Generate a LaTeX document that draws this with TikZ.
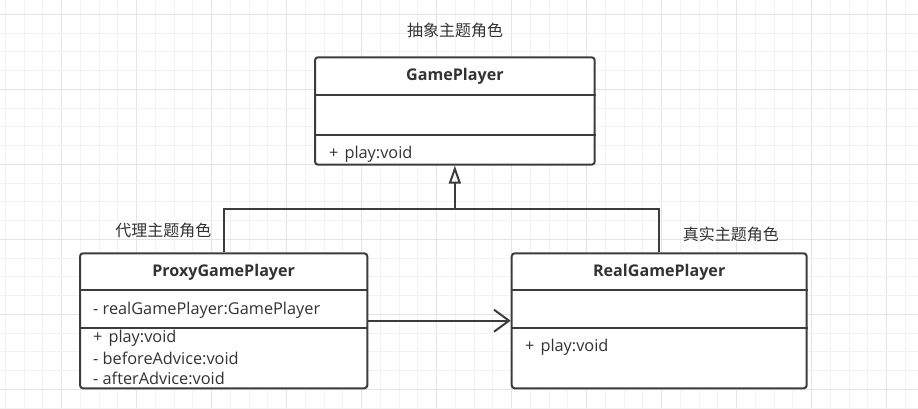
\documentclass[tikz,border=0pt]{standalone}
\usepackage{fontspec}
\setmainfont{Open Sans}
\newfontfamily\cjk{Noto Sans CJK SC}
\usetikzlibrary{arrows.meta}
\definecolor{ink}{HTML}{3C3C3C}
\definecolor{txt}{HTML}{333333}
\definecolor{gminor}{HTML}{F2F2F2}
\definecolor{gmajor}{HTML}{E4E4E4}
\newcommand{\plsp}{+\hspace{6pt}}
\tikzset{
  umlbox/.style={draw=ink, line width=2pt, rounded corners=3pt, fill=white, inner sep=0pt},
  divider/.style={draw=ink, line width=2pt},
  conn/.style={draw=ink, line width=2pt},
  title/.style={font=\fontsize{16.1}{18}\selectfont\bfseries, text=txt, inner sep=0pt},
  member/.style={font=\fontsize{16.3}{18}\selectfont, text=txt, anchor=west, inner sep=0pt},
  role/.style={font=\cjk\fontsize{16}{18}\selectfont, text=txt, inner sep=0pt},
}
\begin{document}
\begin{tikzpicture}[x=1pt,y=-1pt]
\useasboundingbox (0,0) rectangle (918,409);
\fill[white] (0,0) rectangle (918,409);
% grid
\foreach \i in {0,...,49} {
  \pgfmathsetmacro{\gx}{5.45+18.75*\i}
  \pgfmathtruncatemacro{\m}{mod(\i+1,4)}
  \ifnum\m=0 \draw[gmajor, line width=1pt] (\gx,0) -- (\gx,409);
  \else \draw[gminor, line width=1pt] (\gx,0) -- (\gx,409); \fi
}
\foreach \j in {0,...,21} {
  \pgfmathsetmacro{\gy}{14.3+18.75*\j}
  \pgfmathtruncatemacro{\m}{mod(\j+0,4)}
  \ifnum\m=0 \draw[gmajor, line width=1pt] (0,\gy) -- (918,\gy);
  \else \draw[gminor, line width=1pt] (0,\gy) -- (918,\gy); \fi
}
% GamePlayer
\node[umlbox, minimum width=279.7pt, minimum height=107.4pt] (gp) at (454.85,111) {};
\node[title] (gpt) at (454.85,76.5) {GamePlayer};
\draw[divider] (gp.west |- 0,95) -- (gp.east |- 0,95);
\draw[divider] (gp.west |- 0,135.3) -- (gp.east |- 0,135.3);
\node[member] (gpm) at (329,154) {\plsp play:void};
\node[role] (gpr) at (455,30) {抽象主题角色};
% ProxyGamePlayer
\node[umlbox, minimum width=287.3pt, minimum height=135pt] (px) at (223.65,320.8) {};
\node[title] (pxt) at (223.65,272.3) {ProxyGamePlayer};
\draw[divider] (px.west |- 0,290.3) -- (px.east |- 0,290.3);
\draw[divider] (px.west |- 0,328) -- (px.east |- 0,328);
\node[member] (pxa) at (93,310) {- realGamePlayer:GamePlayer};
\node[member] (pxm1) at (93,338.5) {\plsp play:void};
\node[member] (pxm2) at (93,358.5) {- beforeAdvice:void};
\node[member] (pxm3) at (93,378.5) {- afterAdvice:void};
\node[role] (pxr) at (163.3,230.7) {代理主题角色};
% RealGamePlayer
\node[umlbox, minimum width=295pt, minimum height=135pt] (rp) at (659.2,320.8) {};
\node[title] (rpt) at (659.2,272.3) {RealGamePlayer};
\draw[divider] (rp.west |- 0,290.3) -- (rp.east |- 0,290.3);
\draw[divider] (rp.west |- 0,328) -- (rp.east |- 0,328);
\node[member] (rpm) at (525,347) {\plsp play:void};
\node[role] (rpr) at (730.8,234.3) {真实主题角色};
% connectors
\coordinate (jn) at (454.85,209);
\draw[conn] (px.north) |- (jn);
\draw[conn] (rp.north) |- (jn);
\draw[conn, -{Triangle[open, length=18pt, width=12pt, line width=2pt]}] (jn) -- (gp.south);
\draw[conn, -{Straight Barb[length=15pt, width=22pt, line width=2pt]}] (px.east |- 0,320.7) -- (rp.west |- 0,320.7);
\end{tikzpicture}
\end{document}
